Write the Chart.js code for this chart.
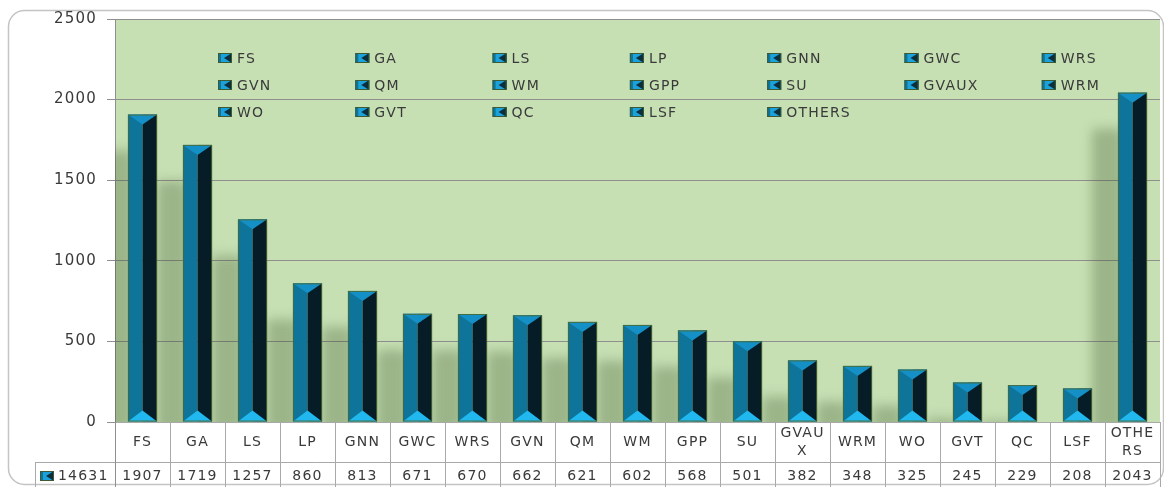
<!DOCTYPE html>
<html>
<head>
<meta charset="utf-8">
<script src="https://cdn.jsdelivr.net/npm/chart.js@4/dist/chart.umd.min.js"></script>
<style>
  html, body { margin: 0; padding: 0; background: #ffffff; }
  #wrap { width: 1164px; height: 487px; }
</style>
</head>
<body>
<div id="wrap"><canvas id="c" width="1164" height="487"></canvas></div>
<script>
const categories = ['FS','GA','LS','LP','GNN','GWC','WRS','GVN','QM','WM','GPP','SU','GVAUX','WRM','WO','GVT','QC','LSF','OTHERS'];
const values = [1907,1719,1257,860,813,671,670,662,621,602,568,501,382,348,325,245,229,208,2043];
const tableLabels = [['FS'],['GA'],['LS'],['LP'],['GNN'],['GWC'],['WRS'],['GVN'],['QM'],['WM'],['GPP'],['SU'],['GVAU','X'],['WRM'],['WO'],['GVT'],['QC'],['LSF'],['OTHE','RS']];
const totalLabel = '14631';
const yTicks = [0,500,1000,1500,2000,2500];

const FONT = '"DejaVu Sans", Verdana, sans-serif';
const TEXT = '#3a3a3a';

function drawMarker(ctx, x, y) {
  ctx.save();
  ctx.fillStyle = '#1ba2da';
  ctx.fillRect(x, y, 14, 10);
  ctx.fillStyle = '#0b2f3d';
  ctx.beginPath();
  ctx.moveTo(x + 14, y);
  ctx.lineTo(x + 14, y + 10);
  ctx.lineTo(x + 6, y + 5);
  ctx.closePath();
  ctx.fill();
  ctx.fillStyle = '#0e7499';
  ctx.fillRect(x, y, 3, 10);
  ctx.strokeStyle = '#3d5a32';
  ctx.lineWidth = 1;
  ctx.strokeRect(x + 0.5, y + 0.5, 13, 9);
  ctx.restore();
}

const bgPlugin = {
  id: 'bg',
  beforeDraw(chart) {
    const ctx = chart.ctx;
    const a = chart.chartArea;
    ctx.save();
    ctx.fillStyle = '#ffffff';
    ctx.fillRect(0, 0, chart.width, chart.height);
    ctx.strokeStyle = '#c4c4c4';
    ctx.lineWidth = 1.5;
    ctx.beginPath();
    ctx.roundRect(8.5, 10.5, 1155, 474, 16);
    ctx.stroke();
    ctx.fillStyle = '#c6e0b4';
    ctx.fillRect(a.left, a.top, a.right - a.left, a.bottom - a.top);
    ctx.restore();
    ctx.letterSpacing = '1.2px';
  }
};

const barPlugin = {
  id: 'bars3d',
  beforeDatasetsDraw(chart) {
    const ctx = chart.ctx;
    const a = chart.chartArea;
    const meta = chart.getDatasetMeta(0);
    ctx.save();
    ctx.beginPath();
    ctx.rect(a.left, a.top, a.right - a.left, a.bottom - a.top);
    ctx.clip();
    ctx.filter = 'blur(6px)';
    ctx.fillStyle = 'rgba(55,80,35,0.30)';
    meta.data.forEach(el => {
      const p = el.getProps(['x','y','base','width'], true);
      const top = p.y + 36;
      if (top < p.base) {
        ctx.fillRect(p.x - p.width / 2 - 26, top, p.width + 2, p.base - top + 10);
      }
    });
    ctx.restore();
  },
  afterDatasetsDraw(chart) {
    const ctx = chart.ctx;
    const meta = chart.getDatasetMeta(0);
    ctx.save();
    meta.data.forEach(el => {
      const p = el.getProps(['x','y','base','width'], true);
      const L = p.x - p.width / 2, R = p.x + p.width / 2, T = p.y, B = p.base, cx = p.x;
      const h = B - T;
      const dt = Math.min(10, h / 2);
      const db = Math.min(11, h / 2);
      ctx.fillStyle = '#0e7499';
      ctx.fillRect(L, T, cx - L, h);
      ctx.fillStyle = '#061d27';
      ctx.fillRect(cx, T, R - cx, h);
      ctx.fillStyle = '#1590c6';
      ctx.beginPath();
      ctx.moveTo(L, T); ctx.lineTo(R, T); ctx.lineTo(cx, T + dt); ctx.closePath();
      ctx.fill();
      ctx.fillStyle = '#20b8ef';
      ctx.beginPath();
      ctx.moveTo(L, B); ctx.lineTo(R, B); ctx.lineTo(cx, B - db); ctx.closePath();
      ctx.fill();
      ctx.strokeStyle = 'rgba(75,105,45,0.85)';
      ctx.lineWidth = 1;
      ctx.strokeRect(L + 0.5, T + 0.5, R - L - 1, h - 1);
    });
    ctx.font = '14px ' + FONT;
    ctx.textBaseline = 'middle';
    ctx.textAlign = 'left';
    categories.forEach((c, i) => {
      const col = i % 7, row = Math.floor(i / 7);
      const x = 218 + col * 137.3;
      const y = 58 + row * 27;
      drawMarker(ctx, x, y - 5);
      ctx.fillStyle = TEXT;
      ctx.fillText(c, x + 19, y + 1);
    });
    ctx.restore();
  }
};

const tablePlugin = {
  id: 'table',
  afterDraw(chart) {
    const ctx = chart.ctx;
    const a = chart.chartArea;
    const xs = chart.scales.x;
    const colW = xs.getPixelForValue(1) - xs.getPixelForValue(0);
    const top = a.bottom, mid = a.bottom + 40, bot = chart.height + 2;
    ctx.save();
    ctx.strokeStyle = '#a9a9a9';
    ctx.lineWidth = 1;
    ctx.beginPath();
    ctx.moveTo(a.left, top + 0.5); ctx.lineTo(a.right, top + 0.5);
    ctx.moveTo(35, mid + 0.5); ctx.lineTo(a.right, mid + 0.5);
    ctx.moveTo(35.5, mid); ctx.lineTo(35.5, bot);
    for (let i = 0; i <= categories.length; i++) {
      const x = Math.round(xs.getPixelForValue(0) - colW / 2 + i * colW) + 0.5;
      ctx.moveTo(x, top); ctx.lineTo(x, bot);
    }
    ctx.stroke();
    ctx.strokeStyle = '#8f8f8f';
    ctx.beginPath();
    ctx.moveTo(a.left + 0.5, top); ctx.lineTo(a.left + 0.5, bot);
    ctx.stroke();

    ctx.fillStyle = TEXT;
    ctx.font = '14px ' + FONT;
    ctx.textAlign = 'center';
    ctx.textBaseline = 'middle';
    tableLabels.forEach((lines, i) => {
      const cx = xs.getPixelForValue(i);
      if (lines.length === 1) {
        ctx.fillText(lines[0], cx, top + 20);
      } else {
        ctx.fillText(lines[0], cx, top + 11);
        ctx.fillText(lines[1], cx, top + 29);
      }
      ctx.fillText(String(values[i]), cx, mid + 14);
    });
    drawMarker(ctx, 40, mid + 9);
    ctx.fillStyle = TEXT;
    ctx.textAlign = 'left';
    ctx.fillText(totalLabel, 58, mid + 14);
    ctx.restore();
  }
};

new Chart(document.getElementById('c'), {
  type: 'bar',
  data: {
    labels: categories,
    datasets: [{
      label: totalLabel,
      data: values,
      backgroundColor: 'rgba(0,0,0,0)',
      borderWidth: 0,
      categoryPercentage: 1,
      barPercentage: 0.53
    }]
  },
  options: {
    responsive: false,
    animation: false,
    devicePixelRatio: 1,
    layout: { padding: { left: 0, right: 4, top: 19, bottom: 65 } },
    plugins: { legend: { display: false }, tooltip: { enabled: false } },
    scales: {
      x: { display: false },
      y: {
        min: 0,
        max: 2500,
        afterBuildTicks: s => { s.ticks = yTicks.map(v => ({ value: v })); },
        afterFit: s => { s.width = 115; },
        grid: { color: '#8f8f8f', tickLength: 8, lineWidth: 1 },
        border: { color: '#8f8f8f' },
        ticks: { padding: 10, color: TEXT, font: { family: FONT, size: 15 }, callback: v => String(v) }
      }
    }
  },
  plugins: [bgPlugin, barPlugin, tablePlugin]
});
</script>
</body>
</html>
